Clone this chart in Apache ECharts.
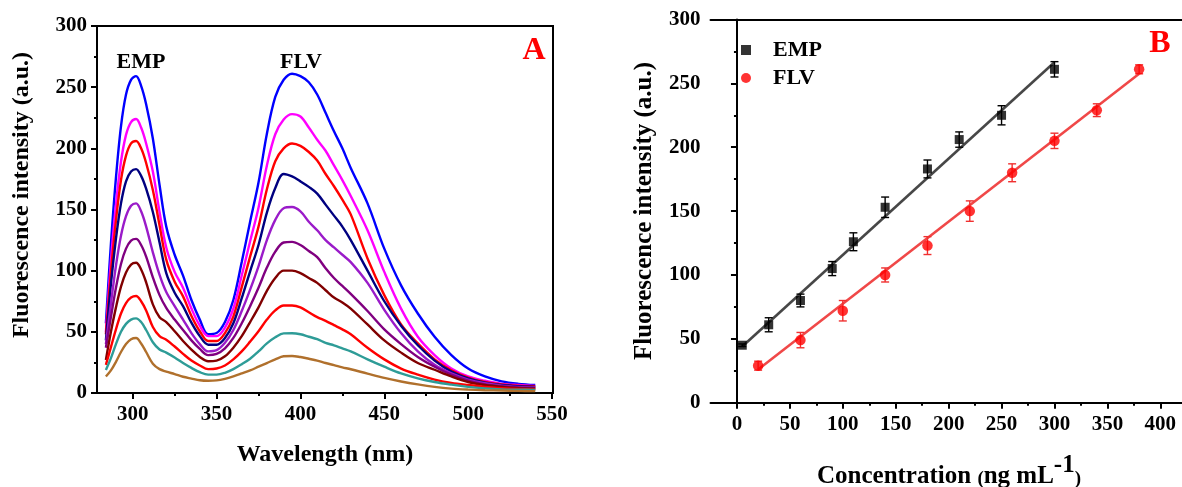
<!DOCTYPE html>
<html>
<head>
<meta charset="utf-8">
<script src="https://cdn.jsdelivr.net/npm/echarts@6/dist/echarts.min.js"></script>
<style>
html,body{margin:0;padding:0;background:#fff;}
#chart{width:1182px;height:487px;}
</style>
</head>
<body>
<div id="chart"></div>
<script>
// ---------- Panel A data ----------
const wavelength = [284,287,290,293,296,299,302,305,308,312,316,320,325,330,335,340,345,350,355,360,365,370,375,380,385,390,395,400,405,410,415,420,425,430,440,450,460,470,480,490,500,510,520,530,540];
const curveBlue    = [57,122,176,218,244,256,259,251,236,208,170,136,113,96,76,60,48,49,58,76,107,140,172,212,242,256,261,259,254,244,229,214,200,184,155,118,88,65,46,31,20,13.5,9.5,7.5,6.5];
const curveMagenta = [50,108,154,189,211,221.5,224,217,204,181,148,119,99,86,69,55,46.5,46.5,53.5,69,96,124,151.5,186,211.5,223.5,228,226,217,207,198,186,174,161,133,99,69,46,31,20,13.5,10,7.5,6.5,5.8];
const curveRed     = [48,99,141,174,194,204,206,200,188,166,137,109,91,79,63,50.5,42.5,42.5,49,62.5,86.5,111.5,136,166.5,189.5,200,204,202,197,190,179,169,158,146,110,80,56,40.5,27.5,18.5,12.5,9,7,6,5.5];
const curveNavy    = [43,89,126,155,173,181,183,177.5,167,148,123,98,82,71,57.5,46.5,39.5,39.5,45,57,77.5,99.5,121,147.5,167.5,179,177,173,168.5,163,154,145,136,125,100,75,55,39,26.5,17.5,12,8.5,6.5,5.5,5];
const curveViolet  = [40,73,104,128.5,144.5,153,155,148.5,136,115,96.5,82.5,71,60,49,40,34,35,41,51.5,67,84.5,103.5,125,141.5,151,152,148.5,140,133,125,119,113,107,90,68,49,34,23,16,11,8,6,5,4.5];
const curvePurple  = [37,62,86,105.5,118,124.5,126,121,111.5,94.5,80,69.5,60,51.5,43,36,31,32,36.5,45,57,71,86,102.5,115.5,123,123.5,121,116,111,102,94,87.5,81,67,52,40,29.5,21.5,15,10,7,5.5,4.5,4];
const curveWine    = [27,50,70,87,98.5,105,106.5,101,90.5,72.5,62,58,50.5,42.5,35.5,29.5,26,26.5,30,37,46.5,58,70,83.5,94,100,100,98,94,90,84,78,74,69,56,43,33,24.5,19,13.5,9,6.5,5,4,3.5];
const curveRed2    = [23,37.5,52,65,73.5,78,79.3,75,67.5,54,46.5,43.5,38,32,26.5,22.5,19.5,20,22.5,27.5,34,42,50.5,60,67.5,71.5,71.5,70,66,62,59,55.5,52,48,37,27.5,20,15,11,8.3,6.5,5,4,3.3,3];
const curveTeal    = [18.8,28.5,40,50,56.5,60,61,58,51.5,41.5,35.5,33,29,24.5,20.5,17,15,15,16.5,19.5,23.5,28,34,40.5,45.5,48.7,48.8,48,46,44,41,39,36.5,34,27.5,21.5,16,12,9,6.8,5,3.8,3,2.7,2.5];
const curveBrown   = [13.5,18.5,25.5,33.5,40,44,45,40.5,33.5,24,19.5,17.5,15.5,13.3,11.8,10.4,10,10.3,11.6,13.6,16,18.5,21.5,24.5,27.5,30,30.3,29.4,28,26.5,24.5,22.8,21,19.4,15.8,12.3,9.4,7,5,3.6,2.8,2.3,2,1.7,1.5];
const curvesA = [curveBlue,curveMagenta,curveRed,curveNavy,curveViolet,curvePurple,curveWine,curveRed2,curveTeal,curveBrown];
const colorsA = ['#0000FF','#FF00FF','#FF0000','#000080','#9A1BC9','#800080','#800000','#FF0000','#2E9C97','#B0702C'];
const xTicksA = [300,350,400,450,500,550];
const xMinorA = [325,375,425,475,525];

// ---------- Panel B data ----------
const concEMP = [5,30,60,90,110,140,180,210,250,300];
const valEMP  = [45,61,80,105,126,153,183,206,225,261];
const errEMP  = [1,5.5,5,5.5,7,8,7,6,7.5,6];
const concFLV = [20,60,100,140,180,220,260,300,340,380];
const valFLV  = [29,49,72,100,123,150,180,205,229,261];
const errFLV  = [3.5,6,8,5.5,7,8,7,6,5,3.5];
const fitEMP  = [[5,44],[300,266.5]];
const fitFLV  = [[20,26],[380,257.5]];
const xTicksB = [0,50,100,150,200,250,300,350,400];
const xMinorB = [25,75,125,175,225,275,325,375];

const FONT = "'Liberation Serif','Times New Roman',serif";
const chart = echarts.init(document.getElementById('chart'), null, {renderer:'canvas'});

const axisLineStyle = {show:true, lineStyle:{color:'#000', width:2}};
const labelStyle = {color:'#000', fontFamily:FONT, fontWeight:'bold', fontSize:21};

function yAxisCfg(gridIndex){
  return {
    type:'value', gridIndex, min:0, max:300, interval:50,
    axisLine: axisLineStyle,
    axisTick:{show:true, inside:false, length:6, lineStyle:{color:'#000', width:2}},
    minorTick:{show:true, splitNumber:2, length:3, lineStyle:{color:'#000', width:2}},
    axisLabel:Object.assign({margin:10}, labelStyle),
    splitLine:{show:false}, minorSplitLine:{show:false}
  };
}
function xMajor(gridIndex,min,max,ticks){
  return {
    type:'value', gridIndex, min, max, position:'bottom',
    axisLine: axisLineStyle,
    axisTick:{show:true, inside:false, length:6, customValues:ticks, lineStyle:{color:'#000', width:2}},
    axisLabel:Object.assign({margin:11, customValues:ticks}, labelStyle),
    splitLine:{show:false}
  };
}
function xMinor(gridIndex,min,max,ticks){
  return {
    type:'value', gridIndex, min, max, position:'bottom',
    axisLine:{show:false},
    axisTick:{show:true, inside:false, length:3, customValues:ticks, lineStyle:{color:'#000', width:2}},
    axisLabel:{show:false},
    splitLine:{show:false}
  };
}
function xTopLine(gridIndex,min,max){
  return {
    type:'value', gridIndex, min, max, position:'top',
    axisLine: axisLineStyle, axisTick:{show:false}, axisLabel:{show:false}, splitLine:{show:false}
  };
}

const series = [];
curvesA.forEach((arr, k) => {
  series.push({
    type:'line', xAxisIndex:0, yAxisIndex:0, showSymbol:false, symbol:'none',
    smooth:0.35, silent:true,
    lineStyle:{color:colorsA[k], width:2.4},
    data: wavelength.map((w,i)=>[w, arr[i]])
  });
});

function errRender(color){
  return function(params, api){
    const x = api.value(0), y = api.value(1), e = api.value(2);
    const t = api.coord([x, y+e]), b = api.coord([x, y-e]);
    const hw = 4;
    const st = {stroke:color, lineWidth:1.4};
    return {type:'group', children:[
      {type:'line', shape:{x1:t[0],y1:t[1],x2:b[0],y2:b[1]}, style:st},
      {type:'line', shape:{x1:t[0]-hw,y1:t[1],x2:t[0]+hw,y2:t[1]}, style:st},
      {type:'line', shape:{x1:b[0]-hw,y1:b[1],x2:b[0]+hw,y2:b[1]}, style:st}
    ]};
  };
}

series.push({type:'line', name:'fitEMP', xAxisIndex:2, yAxisIndex:1, data:fitEMP, symbol:'none', lineStyle:{color:'#474747', width:2.6}, z:2});
series.push({type:'line', name:'fitFLV', xAxisIndex:2, yAxisIndex:1, data:fitFLV, symbol:'none', lineStyle:{color:'#F04848', width:2.6}, z:2});
series.push({type:'custom', name:'errEMP', xAxisIndex:2, yAxisIndex:1, renderItem:errRender('#000'),
  data: concEMP.map((c,i)=>[c, valEMP[i], errEMP[i]]), z:3});
series.push({type:'custom', name:'errFLV', xAxisIndex:2, yAxisIndex:1, renderItem:errRender('#F03030'),
  data: concFLV.map((c,i)=>[c, valFLV[i], errFLV[i]]), z:3});
series.push({type:'scatter', name:'EMP', xAxisIndex:2, yAxisIndex:1, symbol:'rect', symbolSize:9,
  itemStyle:{color:'#000'}, data: concEMP.map((c,i)=>[c, valEMP[i]]), z:4});
series.push({type:'scatter', name:'FLV', xAxisIndex:2, yAxisIndex:1, symbol:'circle', symbolSize:10.5,
  itemStyle:{color:'#FF0000'}, data: concFLV.map((c,i)=>[c, valFLV[i]]), z:4});

const titleFont = (size) => `bold ${size}px ${FONT}`;

const option = {
  animation:false,
  backgroundColor:'#fff',
  grid:[
    {left:97, top:26, width:456, height:367, show:true, borderColor:'#000', borderWidth:2, backgroundColor:'transparent'},
    {left:710.5, top:19.5, right:0, height:383.2, show:false}
  ],
  xAxis:[
    xMajor(0, 278.7, 550.6, xTicksA),
    xMinor(0, 278.7, 550.6, xMinorA),
    xMajor(1, -25, 420.5, xTicksB),
    xMinor(1, -25, 420.5, xMinorB),
    xTopLine(1, -25, 420.5)
  ],
  yAxis:[ yAxisCfg(0), yAxisCfg(1) ],
  legend:{
    orient:'vertical', left:733, top:34, padding:[5,5,5,5], itemWidth:10, itemHeight:10, itemGap:6,
    data:[{name:'EMP', icon:'rect'}, {name:'FLV', icon:'circle'}],
    textStyle:{color:'#000', fontFamily:FONT, fontWeight:'bold', fontSize:22, padding:[0,0,0,20]}
  },
  graphic:[
    {type:'text', x:22, y:195, rotation:Math.PI/2, style:{text:'Fluorescence intensity (a.u.)', font:titleFont(24), fill:'#000', align:'center', verticalAlign:'middle'}},
    {type:'text', x:325, y:455, style:{text:'Wavelength (nm)', font:titleFont(24), fill:'#000', align:'center', verticalAlign:'middle'}},
    {type:'text', x:645, y:211, rotation:Math.PI/2, style:{text:'Fluorescence intensity (a.u.)', font:titleFont(25), fill:'#000', align:'center', verticalAlign:'middle'}},
    {type:'text', x:949, y:471, style:{
      text:'{a|Concentration }{p|(}{a|ng mL}{s|-1}{p|)}', align:'center', verticalAlign:'middle',
      rich:{
        a:{font:titleFont(25), fill:'#000', verticalAlign:'bottom'},
        p:{font:titleFont(19), fill:'#000', verticalAlign:'bottom'},
        s:{font:titleFont(25), fill:'#000', verticalAlign:'bottom', padding:[0,0,11,0]}
      }}},
    {type:'text', x:141, y:62, style:{text:'EMP', font:titleFont(22), fill:'#000', align:'center', verticalAlign:'middle'}},
    {type:'text', x:301, y:62, style:{text:'FLV', font:titleFont(22), fill:'#000', align:'center', verticalAlign:'middle'}},
    {type:'text', x:534, y:51, style:{text:'A', font:titleFont(32), fill:'#FF0000', align:'center', verticalAlign:'middle'}},
    {type:'text', x:1160, y:44, style:{text:'B', font:titleFont(32), fill:'#FF0000', align:'center', verticalAlign:'middle'}}
  ],
  series
};
// shift legend so icons sit at x≈743 and text starts at x≈773
option.legend.left = 736;
option.legend.textStyle.padding = [0,0,0,17];
chart.setOption(option);
</script>
</body>
</html>
